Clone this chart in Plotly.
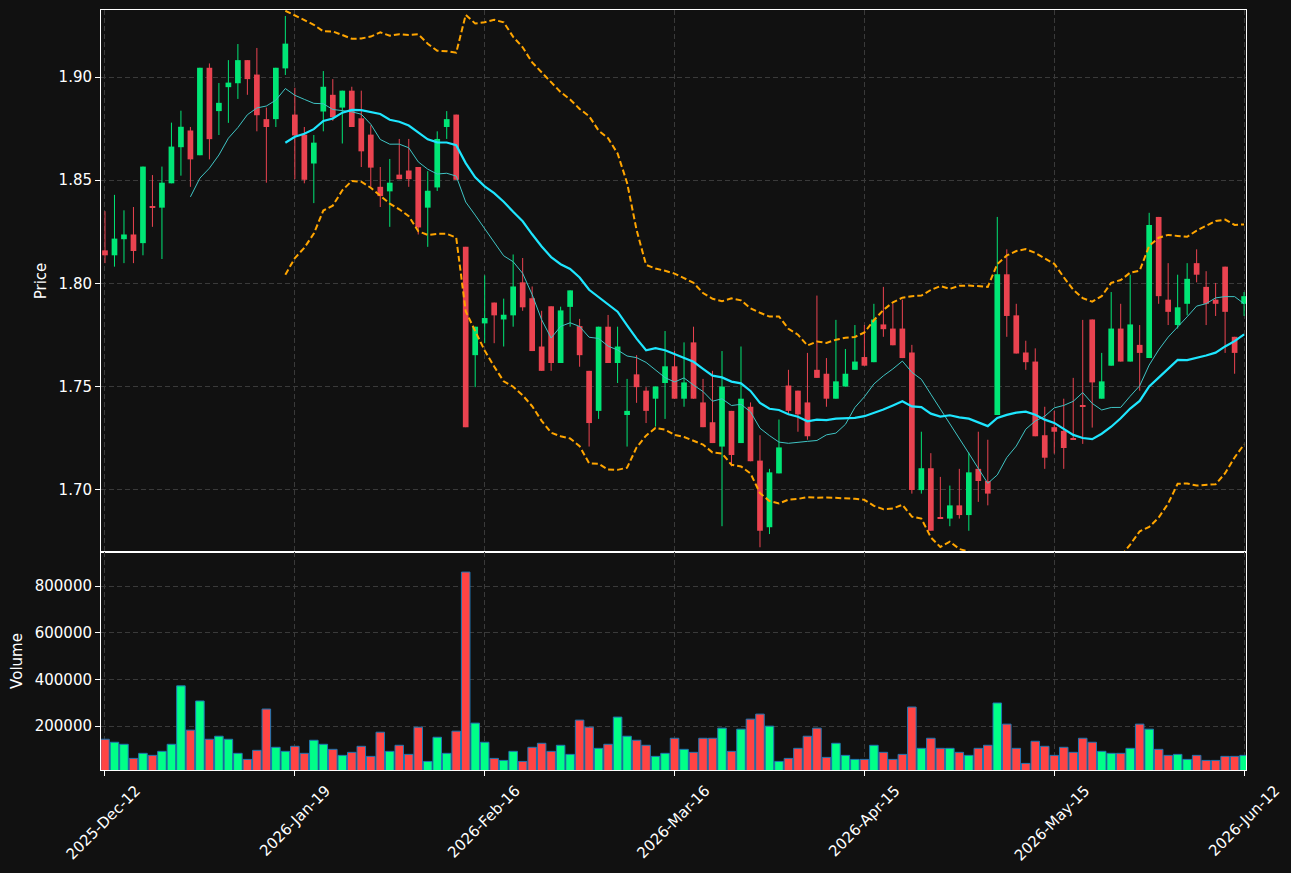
import numpy as np
import pandas as pd
import plotly.graph_objects as go

# ---------------- data ----------------
tick_labels = ["2025-Dec-12", "2026-Jan-19", "2026-Feb-16", "2026-Mar-16",
               "2026-Apr-15", "2026-May-15", "2026-Jun-12"]
tick_index = [0, 20, 40, 60, 80, 100, 120]

opens = [
    1.8160, 1.8136, 1.8214, 1.8237, 1.8195, 1.8372, 1.8367, 1.8485, 1.8660, 1.8741,
    1.8621, 1.9045, 1.8835, 1.8951, 1.8970, 1.9082, 1.9012, 1.8796, 1.8796, 1.9042,
    1.8818, 1.8721, 1.8581, 1.8833, 1.8914, 1.8852, 1.8934, 1.8800, 1.8721, 1.8468,
    1.8446, 1.8527, 1.8547, 1.8564, 1.8367, 1.8465, 1.8758, 1.8818, 1.8177, 1.7652,
    1.7806, 1.7907, 1.7825, 1.7845, 1.8005, 1.7928, 1.7694, 1.7889, 1.7614, 1.7886,
    1.7793, 1.7576, 1.7382, 1.7790, 1.7614, 1.7362, 1.7559, 1.7480, 1.7441, 1.7517,
    1.7598, 1.7441, 1.7714, 1.7423, 1.7327, 1.7209, 1.7382, 1.7226, 1.7402, 1.7141,
    1.6818, 1.7079, 1.7505, 1.7480, 1.7423, 1.7581, 1.7562, 1.7441, 1.7500, 1.7581,
    1.7643, 1.7618, 1.7801, 1.7781, 1.7781, 1.7665, 1.6998, 1.7104, 1.6862, 1.6860,
    1.6924, 1.6877, 1.7101, 1.7042, 1.7362, 1.8044, 1.7845, 1.7665, 1.7621, 1.7264,
    1.7303, 1.7285, 1.7244, 1.7404, 1.7825, 1.7441, 1.7601, 1.7781, 1.7621, 1.7702,
    1.7638, 1.8322, 1.7921, 1.7798, 1.7901, 1.8098, 1.7983, 1.7921, 1.8081, 1.7741,
    1.7901]

highs = [
    1.8350, 1.8429, 1.8354, 1.8370, 1.8566, 1.8525, 1.8566, 1.8779, 1.8837, 1.8758,
    1.9045, 1.9066, 1.8971, 1.9082, 1.9160, 1.9082, 1.9141, 1.8852, 1.9045, 1.9296,
    1.8948, 1.8758, 1.8719, 1.9029, 1.8990, 1.8934, 1.8953, 1.8934, 1.8766, 1.8564,
    1.8603, 1.8700, 1.8700, 1.8564, 1.8544, 1.8737, 1.8835, 1.8818, 1.8177, 1.7790,
    1.8039, 1.7907, 1.7926, 1.8140, 1.8123, 1.7985, 1.7867, 1.7889, 1.7887, 1.7966,
    1.7828, 1.7576, 1.7790, 1.7847, 1.7790, 1.7537, 1.7652, 1.7497, 1.7500, 1.7769,
    1.7672, 1.7714, 1.7790, 1.7537, 1.7576, 1.7672, 1.7382, 1.7694, 1.7423, 1.7264,
    1.7101, 1.7340, 1.7581, 1.7480, 1.7663, 1.7941, 1.7638, 1.7823, 1.7682, 1.7798,
    1.7798, 1.7901, 1.7983, 1.7901, 1.7921, 1.7702, 1.7281, 1.7177, 1.7062, 1.7020,
    1.7101, 1.7180, 1.7281, 1.7242, 1.8322, 1.8165, 1.7901, 1.7722, 1.7685, 1.7402,
    1.7382, 1.7441, 1.7542, 1.7823, 1.7825, 1.7663, 1.7958, 1.7901, 1.8042, 1.7798,
    1.8342, 1.8322, 1.8098, 1.8042, 1.8098, 1.8165, 1.8059, 1.8002, 1.8081, 1.7741,
    1.7958]

lows = [
    1.8098, 1.8081, 1.8098, 1.8098, 1.8136, 1.8274, 1.8118, 1.8485, 1.8522, 1.8468,
    1.8621, 1.8601, 1.8719, 1.8778, 1.8894, 1.8914, 1.8737, 1.8488, 1.8758, 1.9010,
    1.8505, 1.8485, 1.8389, 1.8737, 1.8788, 1.8678, 1.8758, 1.8564, 1.8468, 1.8370,
    1.8274, 1.8505, 1.8468, 1.8237, 1.8177, 1.8448, 1.8700, 1.8502, 1.7303, 1.7497,
    1.7710, 1.7710, 1.7694, 1.7790, 1.7867, 1.7672, 1.7576, 1.7576, 1.7614, 1.7790,
    1.7596, 1.7209, 1.7343, 1.7614, 1.7517, 1.7209, 1.7421, 1.7323, 1.7306, 1.7343,
    1.7441, 1.7402, 1.7441, 1.7303, 1.7226, 1.6823, 1.7113, 1.7226, 1.7138, 1.6721,
    1.6785, 1.7079, 1.7365, 1.7281, 1.7242, 1.7542, 1.7402, 1.7441, 1.7500, 1.7581,
    1.7601, 1.7618, 1.7741, 1.7700, 1.7638, 1.6981, 1.6981, 1.6801, 1.6860, 1.6823,
    1.6860, 1.6801, 1.6941, 1.6924, 1.7362, 1.7741, 1.7660, 1.7581, 1.7259, 1.7101,
    1.7175, 1.7101, 1.7242, 1.7222, 1.7301, 1.7441, 1.7601, 1.7621, 1.7621, 1.7480,
    1.7638, 1.7901, 1.7798, 1.7781, 1.7845, 1.8005, 1.7798, 1.7842, 1.7663, 1.7562,
    1.7842]

closes = [
    1.8136, 1.8217, 1.8237, 1.8157, 1.8566, 1.8368, 1.8488, 1.8663, 1.8759, 1.8601,
    1.9045, 1.8699, 1.8875, 1.8973, 1.9082, 1.8990, 1.8815, 1.8758, 1.9045, 1.9162,
    1.8717, 1.8502, 1.8682, 1.8953, 1.8805, 1.8934, 1.8758, 1.8640, 1.8561, 1.8423,
    1.8488, 1.8505, 1.8505, 1.8271, 1.8449, 1.8700, 1.8796, 1.8502, 1.7303, 1.7790,
    1.7832, 1.7845, 1.7848, 1.7985, 1.7884, 1.7672, 1.7576, 1.7614, 1.7869, 1.7966,
    1.7652, 1.7323, 1.7790, 1.7614, 1.7694, 1.7382, 1.7497, 1.7382, 1.7500, 1.7598,
    1.7441, 1.7520, 1.7441, 1.7303, 1.7226, 1.7500, 1.7168, 1.7441, 1.7138, 1.6801,
    1.7084, 1.7205, 1.7382, 1.7365, 1.7259, 1.7542, 1.7441, 1.7525, 1.7562, 1.7621,
    1.7601, 1.7825, 1.7778, 1.7700, 1.7638, 1.6998, 1.7104, 1.6801, 1.6860, 1.6924,
    1.6877, 1.7084, 1.7042, 1.6981, 1.8044, 1.7842, 1.7660, 1.7618, 1.7259, 1.7155,
    1.7281, 1.7202, 1.7242, 1.7402, 1.7520, 1.7525, 1.7781, 1.7621, 1.7801, 1.7663,
    1.8283, 1.7938, 1.7862, 1.7884, 1.8022, 1.8042, 1.7901, 1.7901, 1.7862, 1.7663,
    1.7938]

volumes = [
    143900, 131000, 122300, 61900, 83500, 74800, 92100, 122300, 372700, 182800,
    308000, 143900, 156900, 143900, 83500, 57600, 96400, 273400, 109400, 92100,
    113700, 83500, 139600, 122300, 100700, 74800, 87800, 113700, 70500, 174100,
    92100, 118000, 79100, 195700, 48900, 152500, 83500, 178400, 860500, 213000,
    131000, 61900, 53200, 92100, 48900, 109400, 126600, 92100, 118000, 79100,
    225900, 195700, 105000, 122300, 238900, 156900, 139600, 118000, 70500, 83500,
    148200, 100700, 87800, 148200, 148200, 191400, 92100, 187100, 230200, 251800,
    200000, 48900, 61900, 105000, 156900, 191400, 66200, 126600, 74800, 57600,
    57600, 118000, 87800, 57600, 79100, 282000, 105000, 148200, 105000, 105000,
    87800, 74800, 105000, 118000, 299300, 208700, 105000, 40300, 135300, 113700,
    74800, 109400, 87800, 148200, 131000, 92100, 83500, 83500, 105000, 208700,
    187100, 100700, 74800, 79100, 57600, 74800, 53200, 53200, 70500, 70500,
    74800]

# ---------------- derived ----------------
n = len(closes)
idx = np.arange(n)
o = np.array(opens); h = np.array(highs); l = np.array(lows); c = np.array(closes)
v = np.array(volumes)
up = c >= o

cs = pd.Series(c)
ma10 = cs.rolling(10).mean()
ma20 = cs.rolling(20).mean()
sd20 = cs.rolling(20).std(ddof=0)
bb_up = ma20 + 2 * sd20
bb_lo = ma20 - 2 * sd20

UP_C = "#00e676"
DN_C = "#ea4350"
VUP_C = "#00ff88"
VDN_C = "#ff4444"
BG = "#111111"
GRID = "#3a3a3a"
FONT = dict(family="DejaVu Sans", size=15, color="#ffffff")

fig = go.Figure()

# candle bodies
body_base = np.minimum(o, c)
body_h = np.maximum(np.abs(c - o), 0.0005)
fig.add_trace(go.Bar(
    x=idx, y=body_h, base=body_base, width=0.6,
    marker=dict(color=[UP_C if u else DN_C for u in up], line=dict(width=0)),
    xaxis="x", yaxis="y", showlegend=False, hoverinfo="skip"))

# wicks
for flag, col in ((True, UP_C), (False, DN_C)):
    wx, wy = [], []
    for i in idx[up == flag]:
        wx += [i, i, None]
        wy += [l[i], h[i], None]
    fig.add_trace(go.Scatter(x=wx, y=wy, mode="lines", line=dict(color=col, width=1),
                             xaxis="x", yaxis="y", showlegend=False, hoverinfo="skip"))

# moving averages
fig.add_trace(go.Scatter(x=idx, y=ma10, mode="lines", line=dict(color="#3fc4c4", width=1),
                         xaxis="x", yaxis="y", showlegend=False))
fig.add_trace(go.Scatter(x=idx, y=ma20, mode="lines", line=dict(color="#1ee6ff", width=2.2),
                         xaxis="x", yaxis="y", showlegend=False))
# bollinger bands
for band in (bb_up, bb_lo):
    fig.add_trace(go.Scatter(x=idx, y=band, mode="lines",
                             line=dict(color="#ffa500", width=2, dash="6px,3px"),
                             xaxis="x", yaxis="y", showlegend=False))

# volume
fig.add_trace(go.Bar(
    x=idx, y=v, width=0.9,
    marker=dict(color=[VUP_C if u else VDN_C for u in up], line=dict(width=1, color="#1f77b4")),
    xaxis="x2", yaxis="y2", showlegend=False))

split = 218 / 760
xr = [-0.42, 120.2]
common_axis = dict(showline=True, linecolor="#ffffff", linewidth=1, mirror=True,
                   showgrid=True, gridcolor=GRID, griddash="5px,3px", gridwidth=1,
                   zeroline=False, tickfont=FONT, tickcolor="#ffffff", automargin=False)

fig.update_layout(
    width=1291, height=873,
    margin=dict(l=101, r=45, t=10, b=103),
    paper_bgcolor=BG, plot_bgcolor=BG,
    font=FONT, barmode="overlay", showlegend=False,
    xaxis=dict(domain=[0, 1], anchor="y", range=xr, tickvals=tick_index,
               showticklabels=False, ticks="", **common_axis),
    yaxis=dict(domain=[split, 1], anchor="x", range=[1.6698, 1.9325],
               tickvals=[1.70, 1.75, 1.80, 1.85, 1.90], tickformat=".2f",
               ticks="outside", ticklen=5,
               title=dict(text="Price", font=FONT, standoff=8), **common_axis),
    xaxis2=dict(domain=[0, 1], anchor="y2", range=xr, tickvals=tick_index,
                ticktext=tick_labels, tickangle=-45, ticks="outside", ticklen=5,
                ticklabelshift=31, **common_axis),
    yaxis2=dict(domain=[0, split], anchor="x2",
                range=[0.3 * v.min(), 1.1 * v.max()],
                tickvals=[200000, 400000, 600000, 800000], tickformat="d",
                ticks="outside", ticklen=5,
                title=dict(text="Volume", font=FONT, standoff=8), **common_axis),
)

fig.write_html("out.html")
